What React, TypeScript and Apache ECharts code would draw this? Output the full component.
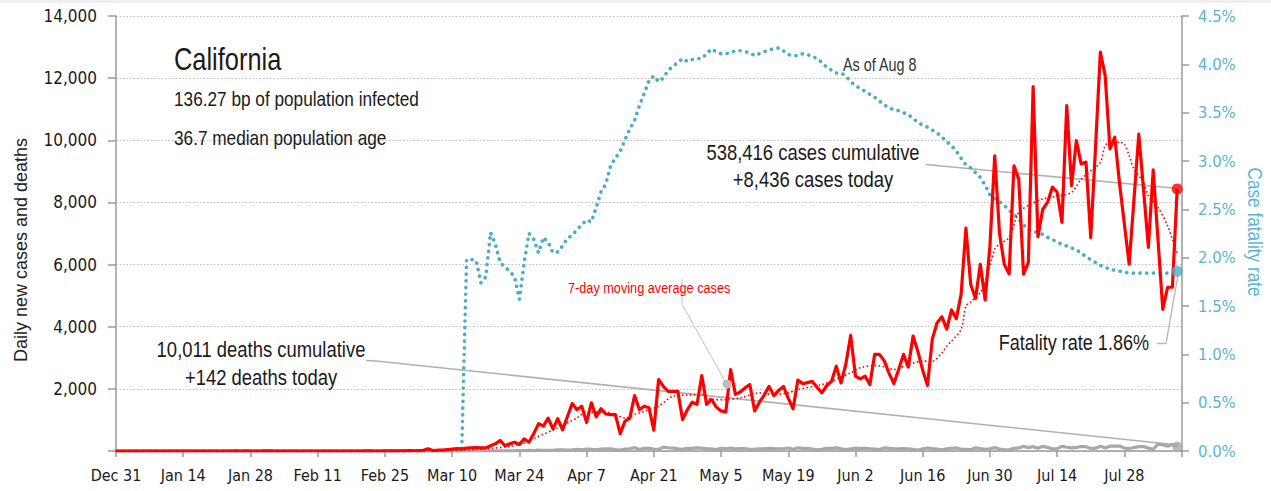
import React, { useEffect, useRef } from 'react';
import * as echarts from 'echarts';

// ---------- data ----------
const xTickLabels = ['Dec 31', 'Jan 14', 'Jan 28', 'Feb 11', 'Feb 25', 'Mar 10', 'Mar 24', 'Apr 7', 'Apr 21', 'May 5', 'May 19', 'Jun 2', 'Jun 16', 'Jun 30', 'Jul 14', 'Jul 28'];
const tickStepDays = 14;
const axisEndDay = 222; // Aug 9 (day index from Dec 31)

// daily new cases, Dec 31 .. Aug 8
const casesDecJan = [0, 0, 0, 0, 0, 0, 0, 0, 0, 0, 0, 0, 0, 0, 0, 0, 0, 0, 0, 0, 0, 0, 0, 0, 0, 1, 0, 1, 0, 0, 0, 1];
const casesFeb = [1, 0, 0, 0, 0, 0, 0, 0, 0, 0, 0, 0, 0, 0, 0, 0, 0, 0, 0, 0, 1, 3, 0, 0, 2, 1, 4, 2, 3];
const casesMar = [12, 8, 14, 20, 70, 15, 25, 30, 45, 60, 80, 70, 90, 100, 110, 100, 100, 170, 230, 340, 170, 230, 280, 210, 390, 280, 560, 880, 800, 1060, 710];
const casesApr = [1040, 680, 1100, 1525, 1330, 1440, 920, 1550, 1100, 1365, 1190, 1170, 1170, 560, 960, 1060, 1785, 1330, 1440, 1390, 670, 2300, 2080, 1920, 1920, 1920, 1010, 1330, 1570, 1500];
const casesMay = [2430, 1500, 1660, 1420, 1290, 1260, 2620, 1820, 1900, 2030, 2140, 1290, 1570, 1800, 2080, 1785, 1950, 2080, 1700, 1355, 2280, 2170, 2200, 2240, 2050, 1870, 2100, 2240, 2730, 2190, 2800];
const casesJun = [3720, 2410, 2320, 2410, 2140, 3110, 3110, 2900, 2500, 2170, 2620, 3110, 2700, 3700, 3200, 2600, 2110, 3600, 4130, 4320, 3920, 4540, 4260, 5040, 7170, 5360, 4910, 6010, 4860, 6600];
const casesJul = [9500, 7000, 6000, 5700, 9180, 8750, 5690, 6070, 11730, 6900, 7780, 8000, 8490, 8330, 7360, 11120, 8540, 9990, 9240, 9300, 6870, 9800, 12840, 12080, 9720, 10100, 8600, 7300, 6010, 8100, 10200];
const casesAug = [8400, 6550, 9050, 6800, 4560, 5270, 5270, 8436];

// daily new deaths
const deathsDecJan = new Array(32).fill(0);
const deathsFeb = new Array(29).fill(0);
const deathsMar = [0, 0, 0, 1, 0, 0, 0, 1, 0, 1, 0, 1, 2, 0, 1, 3, 2, 5, 3, 6, 4, 6, 7, 11, 13, 19, 12, 28, 20, 18, 19];
const deathsApr = [36, 38, 26, 39, 56, 41, 65, 54, 41, 61, 66, 67, 42, 29, 65, 71, 115, 49, 89, 86, 60, 51, 126, 104, 92, 67, 54, 89, 87, 100];
const deathsMay = [94, 67, 71, 45, 87, 68, 95, 70, 80, 76, 55, 60, 70, 71, 84, 74, 72, 80, 97, 57, 102, 86, 88, 61, 37, 52, 85, 84, 100, 74, 44];
const deathsJun = [70, 94, 84, 86, 72, 60, 45, 98, 86, 66, 73, 80, 70, 50, 32, 67, 95, 74, 62, 38, 69, 86, 100, 55, 50, 43, 102, 78, 51, 71];
const deathsJul = [110, 65, 47, 41, 84, 98, 149, 110, 139, 92, 149, 117, 73, 76, 150, 120, 103, 115, 145, 140, 80, 92, 150, 100, 155, 160, 158, 95, 82, 110, 139];
const deathsAug = [142, 93, 56, 219, 197, 155, 210, 142];

// case fatality rate (%)
const rateDecJan = new Array(32).fill(0);
const rateFeb = new Array(29).fill(0);
const rateMar = [0, 0, 0, 0, 0, 0, 0, 0, 0, 0, 0, 0, 1.98, 1.98, 1.97, 1.74, 1.80, 2.26, 2.14, 1.95, 1.90, 1.86, 1.80, 1.57, 1.95, 2.25, 2.19, 2.05, 2.21, 2.16, 2.05];
const rateApr = [2.06, 2.12, 2.20, 2.23, 2.29, 2.34, 2.39, 2.37, 2.52, 2.68, 2.76, 2.95, 3.03, 3.10, 3.22, 3.33, 3.42, 3.57, 3.70, 3.83, 3.88, 3.82, 3.86, 3.94, 3.98, 4.02, 4.06, 4.03, 4.05, 4.06];
const rateMay = [4.06, 4.11, 4.16, 4.13, 4.11, 4.11, 4.12, 4.14, 4.14, 4.13, 4.12, 4.09, 4.11, 4.13, 4.15, 4.16, 4.17, 4.14, 4.10, 4.09, 4.09, 4.11, 4.10, 4.08, 4.06, 4.02, 3.97, 3.94, 3.91, 3.91, 3.88];
const rateJun = [3.82, 3.78, 3.75, 3.72, 3.69, 3.66, 3.62, 3.58, 3.55, 3.53, 3.52, 3.50, 3.48, 3.44, 3.40, 3.37, 3.35, 3.32, 3.29, 3.25, 3.20, 3.16, 3.10, 3.03, 2.96, 2.93, 2.88, 2.83, 2.75, 2.65];
const rateJul = [2.61, 2.58, 2.54, 2.49, 2.45, 2.40, 2.34, 2.29, 2.27, 2.26, 2.24, 2.21, 2.19, 2.16, 2.14, 2.12, 2.10, 2.08, 2.05, 2.01, 1.98, 1.95, 1.92, 1.90, 1.88, 1.87, 1.86, 1.85, 1.84, 1.84, 1.84];
const rateAug = [1.84, 1.84, 1.84, 1.84, 1.84, 1.84, 1.85, 1.86];

// 7-day moving average of cases, read as [day index, value]
const movingAverage: [number, number][] = [
  [0, 0], [60, 0], [70, 20], [78, 80], [82, 150], [85, 250], [87, 400], [92, 750], [94, 900], [96, 1065],
  [98, 1250], [102, 1250], [104, 1172], [106, 1065], [108, 1172], [110, 1280], [113, 1440], [116, 1763],
  [119, 1800], [122, 1817], [124, 1655], [127, 1655], [130, 1710], [134, 1871], [137, 1817], [140, 1871],
  [142, 1978], [147, 2139], [149, 2246], [153, 2515], [155, 2676], [158, 2752], [160, 2709], [162, 2623],
  [165, 2784], [168, 2891], [170, 2891], [172, 3160], [173, 3375], [174, 3536], [176, 3913], [177, 4666],
  [178, 4800], [180, 5096], [181, 5419], [183, 6494], [184, 6655], [186, 6870], [188, 7680], [190, 7900],
  [193, 8110], [196, 8200], [199, 8323], [201, 8752], [203, 9020], [205, 9290], [206, 9827], [207, 9935],
  [209, 9935], [210, 9880], [211, 9504], [212, 9075], [214, 8645], [215, 8213], [217, 7838], [219, 7246],
  [220, 6816], [221, 6380],
];

const dailyCases = [...casesDecJan, ...casesFeb, ...casesMar, ...casesApr, ...casesMay, ...casesJun, ...casesJul, ...casesAug];
const dailyDeaths = [...deathsDecJan, ...deathsFeb, ...deathsMar, ...deathsApr, ...deathsMay, ...deathsJun, ...deathsJul, ...deathsAug];
const fatalityRate = [...rateDecJan, ...rateFeb, ...rateMar, ...rateApr, ...rateMay, ...rateJun, ...rateJul, ...rateAug];

// ---------- style ----------
const RED = '#ff0000';
const BLUE = '#4aadc8';
const BLUE_TEXT = '#5ab6cf';
const GRAY = '#a8a8a8';
const AXIS = '#9a9a9a';
const TEXT = '#1a1a1a';
const SANS = '"Liberation Sans", Arial, sans-serif';
const NARROW_SCALE = 0.82;
const TICKFONT = '"DejaVu Sans Condensed", "DejaVu Sans", sans-serif';

const pairs = (arr: number[]) => arr.map((v, i) => [i, v]);
const last = (arr: number[]) => [[arr.length - 1, arr[arr.length - 1]]];

function txt(text: string, x: number, y: number, size: number, opts: any = {}) {
  return {
    type: 'text', x, y, rotation: opts.rotation || 0, z: 100,
    scaleX: opts.scaleX === undefined ? NARROW_SCALE : opts.scaleX,
    style: {
      text, fill: opts.fill || TEXT, fontSize: size, fontFamily: SANS,
      align: opts.align || 'left', verticalAlign: 'middle',
    },
  };
}

export default function App() {
  const ref = useRef<HTMLDivElement>(null);
  useEffect(() => {
    if (!ref.current) return;
    const chart = echarts.init(ref.current, null, { renderer: 'svg' });
    const option: any = {
      animation: false,
      backgroundColor: '#ffffff',
      grid: { left: 116, right: 89, top: 16, bottom: 40, containLabel: false },
      xAxis: {
        type: 'value', min: 0, max: axisEndDay, interval: tickStepDays,
        axisLine: { show: true, lineStyle: { color: AXIS, width: 1.5 } },
        axisTick: { show: true, length: 6, lineStyle: { color: AXIS, width: 1.5 } },
        splitLine: { show: false },
        axisLabel: {
          color: TEXT, fontSize: 16, fontFamily: TICKFONT, margin: 16,
          formatter: (v: number) => (v % tickStepDays === 0 && v / tickStepDays < xTickLabels.length ? xTickLabels[v / tickStepDays] : ''),
        },
      },
      yAxis: [
        {
          type: 'value', min: 0, max: 14000, interval: 2000, position: 'left',
          axisLine: { show: true, lineStyle: { color: AXIS, width: 1.5 } },
          axisTick: { show: true, length: 8, lineStyle: { color: AXIS, width: 1.5 } },
          splitLine: { show: true, lineStyle: { color: '#bdbdbd', width: 1, type: [1.5, 2] } },
          axisLabel: {
            color: TEXT, fontSize: 17, fontFamily: TICKFONT, margin: 19,
            formatter: (v: number) => (v === 0 ? '' : v.toLocaleString('en-US')),
          },
        },
        {
          type: 'value', min: 0, max: 4.5, interval: 0.5, position: 'right',
          axisLine: { show: true, lineStyle: { color: AXIS, width: 1.5 } },
          axisTick: { show: true, length: 7, lineStyle: { color: AXIS, width: 1.5 } },
          splitLine: { show: false },
          axisLabel: {
            color: BLUE_TEXT, fontSize: 16.5, fontFamily: TICKFONT, margin: 16,
            formatter: (v: number) => v.toFixed(1) + '%',
          },
        },
      ],
      series: [
        {
          name: 'Case fatality rate', type: 'line', yAxisIndex: 1, data: pairs(fatalityRate),
          showSymbol: false, z: 2,
          lineStyle: { color: BLUE, width: 3.6, type: [0.1, 6.6], cap: 'round' },
        },
        {
          name: 'Deaths', type: 'line', data: pairs(dailyDeaths), showSymbol: false, z: 3,
          lineStyle: { color: GRAY, width: 3.2, join: 'round' },
        },
        {
          name: '7-day moving average cases', type: 'line', data: movingAverage, showSymbol: false, smooth: 0.3, z: 4,
          lineStyle: { color: RED, width: 1.6, type: [1.6, 2.4] },
        },
        {
          name: 'Cases', type: 'line', data: pairs(dailyCases), showSymbol: false, z: 5,
          lineStyle: { color: RED, width: 3.2, join: 'round' },
        },
        {
          type: 'scatter', data: last(dailyCases), symbolSize: 11, z: 10,
          itemStyle: { color: RED },
        },
        {
          type: 'scatter', yAxisIndex: 1, data: last(fatalityRate), symbolSize: 11, z: 10,
          itemStyle: { color: BLUE },
        },
        {
          type: 'scatter', data: last(dailyDeaths), symbolSize: 10, z: 10,
          itemStyle: { color: GRAY },
        },
      ],
      graphic: [
        { type: 'rect', shape: { x: 0, y: 0, width: 1271, height: 3 }, style: { fill: '#efefef' }, z: 1 },
        // leader lines
        { type: 'line', z: 1, shape: { x1: 926, y1: 164.5, x2: 1178, y2: 188.5 }, style: { stroke: '#b0b0b0', lineWidth: 1.6 } },
        { type: 'polyline', z: 1, shape: { points: [[366, 360.5], [376, 361], [1178, 445]] }, style: { stroke: '#b0b0b0', lineWidth: 1.6, fill: null } },
        { type: 'polyline', z: 1, shape: { points: [[682, 279], [682, 304], [726, 383]] }, style: { stroke: '#c0c0c0', lineWidth: 1, fill: null } },
        { type: 'circle', z: 50, shape: { cx: 727, cy: 384, r: 4.5 }, style: { fill: '#bdbdbd' } },
        { type: 'polyline', z: 1, shape: { points: [[1157, 343.5], [1166, 343.5], [1178, 275]] }, style: { stroke: '#b8b8b8', lineWidth: 1.4, fill: null } },
        // texts
        txt('California', 174, 59.5, 31),
        txt('136.27 bp of population infected', 174, 98.5, 21),
        txt('36.7 median population age', 174, 138, 21),
        txt('As of Aug 8', 843, 65, 17.5, { fill: '#333' }),
        txt('538,416 cases cumulative', 813, 152, 22.5, { align: 'center' }),
        txt('+8,436 cases today', 813, 179, 22.5, { align: 'center' }),
        txt('10,011 deaths cumulative', 261, 349, 22.5, { align: 'center' }),
        txt('+142 deaths today', 261, 377, 22.5, { align: 'center' }),
        txt('7-day moving average cases', 568, 287.5, 15.5, { fill: RED }),
        txt('Fatality rate 1.86%', 1149, 342, 22, { align: 'right' }),
        txt('Daily new cases and deaths', 21, 250, 18, { rotation: Math.PI / 2, align: 'center', scaleX: 1, fill: '#222' }),
        txt('Case fatality rate', 1255, 232, 21, { rotation: -Math.PI / 2, align: 'center', fill: BLUE_TEXT }),
      ],
    };
    chart.setOption(option);
    return () => chart.dispose();
  }, []);
  return <div ref={ref} style={{ position: 'absolute', left: 0, top: 0, width: 1271, height: 491 }} />;
}
